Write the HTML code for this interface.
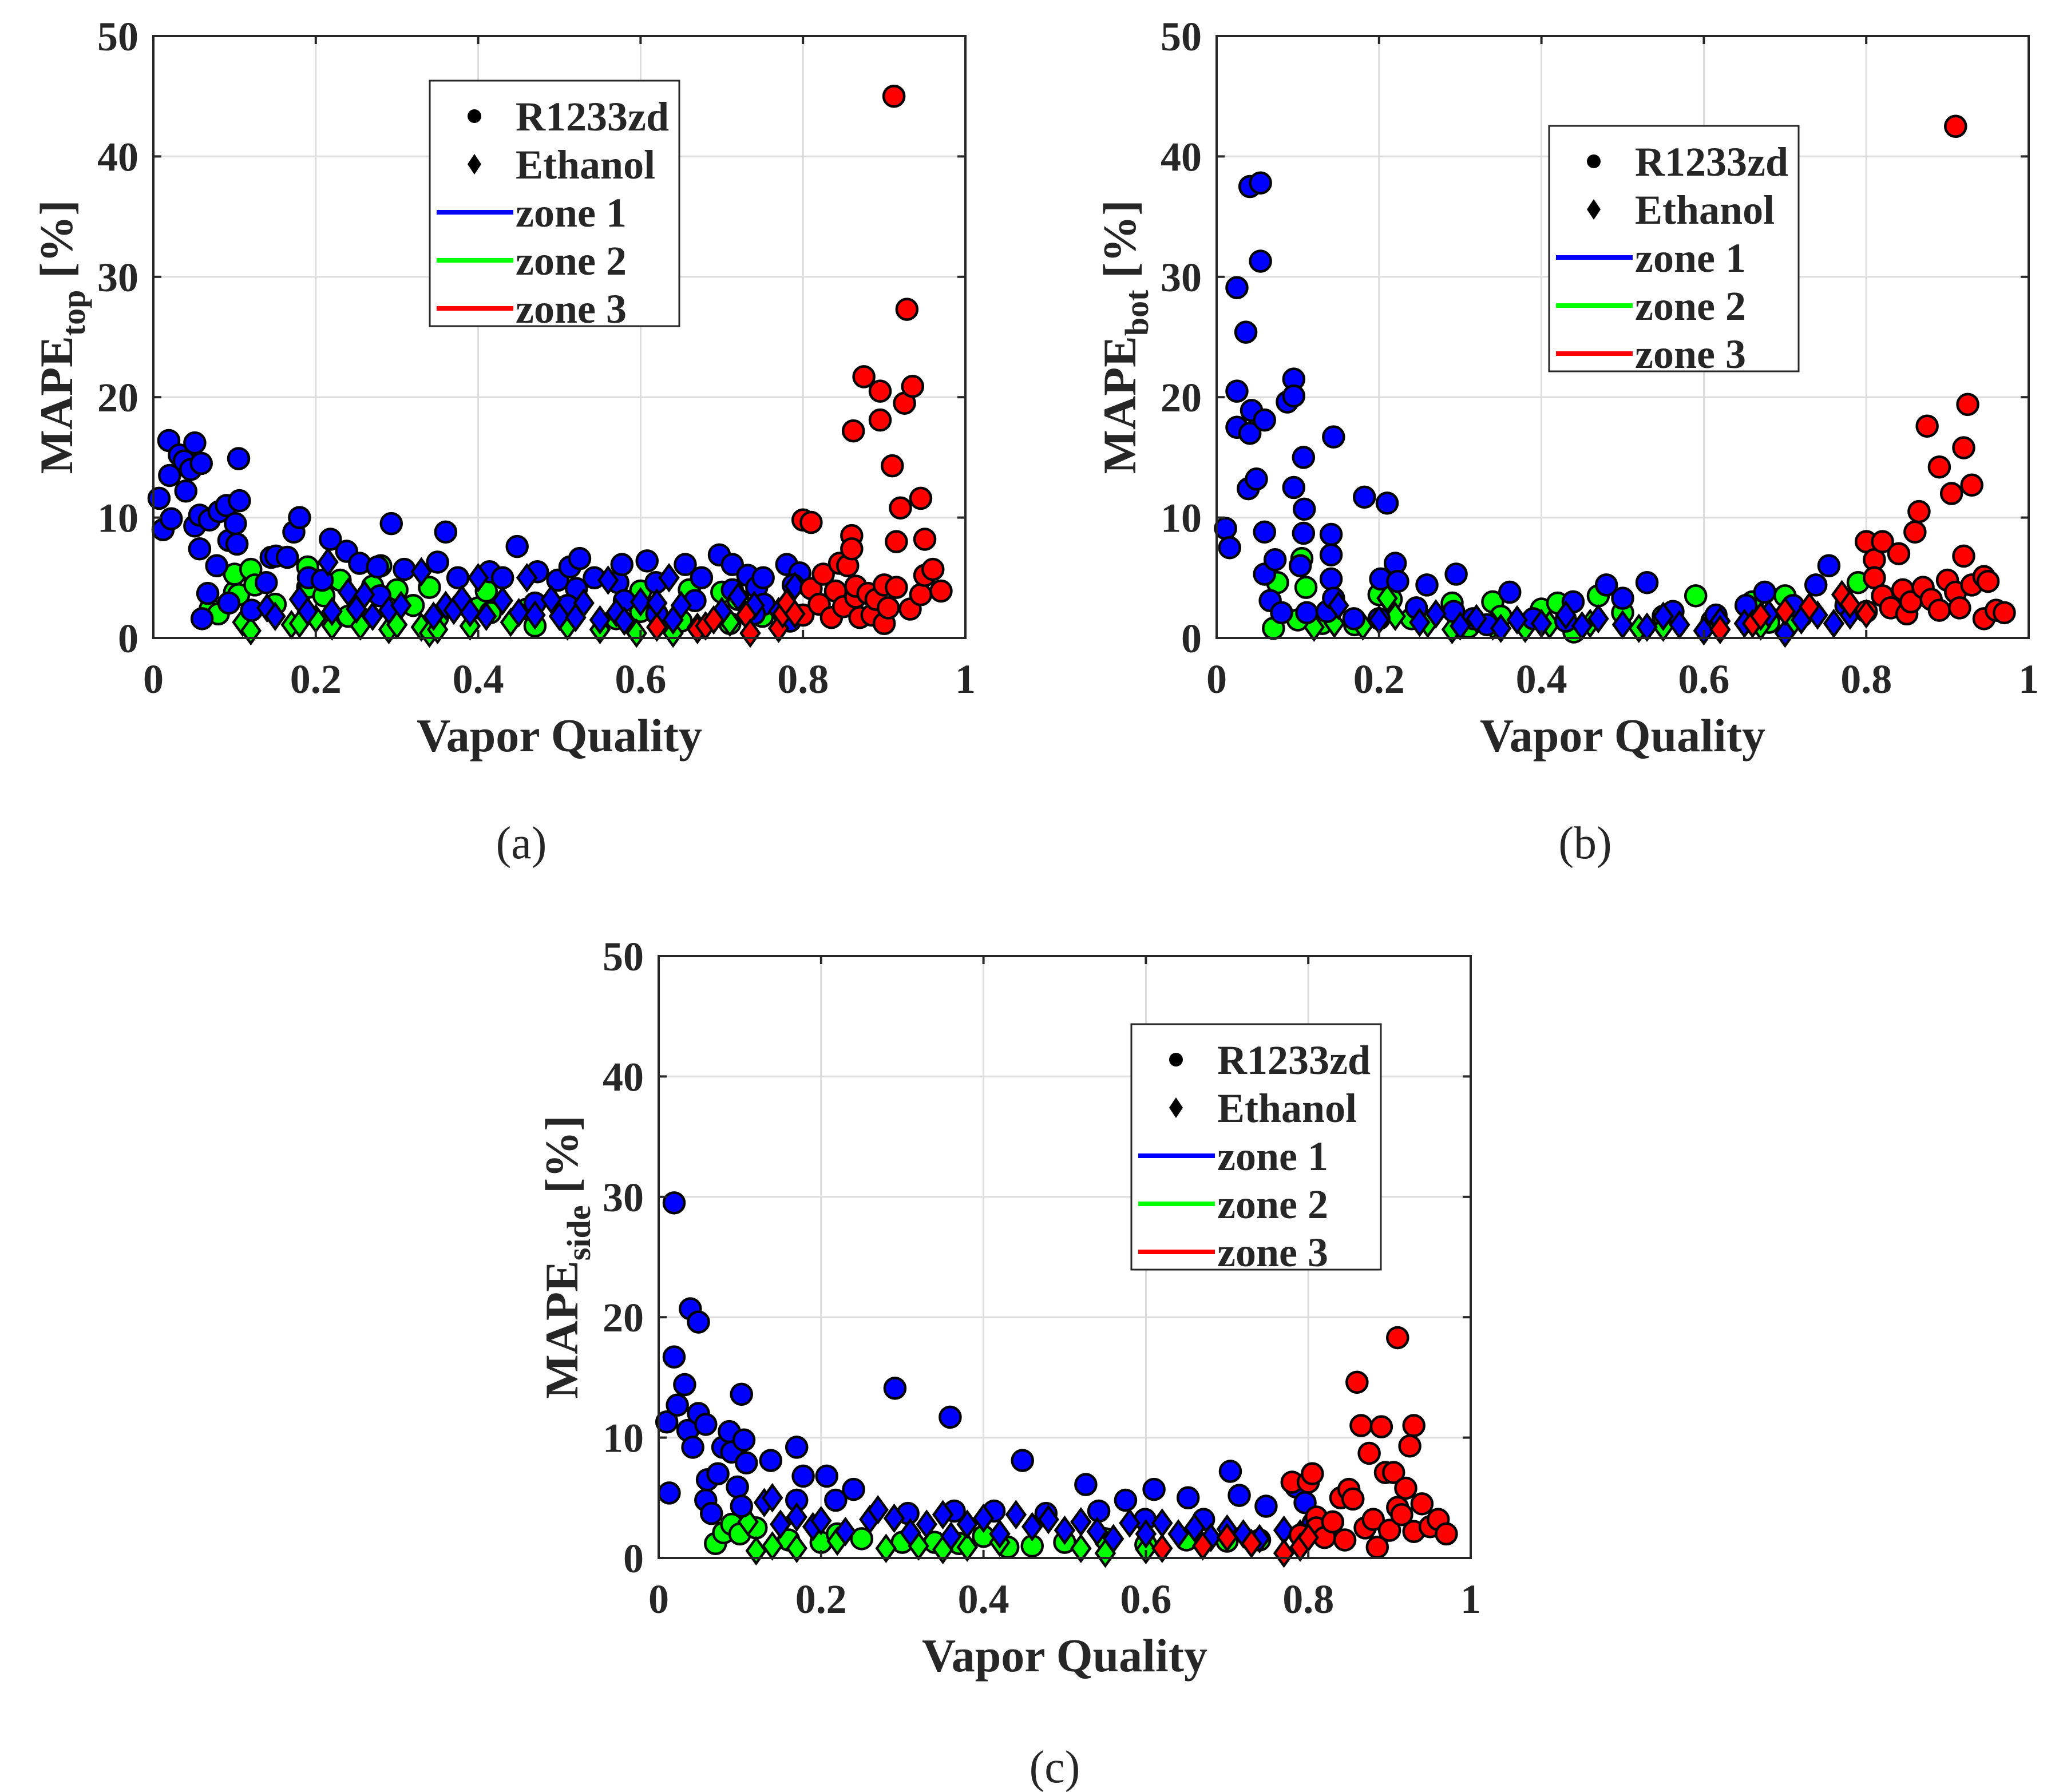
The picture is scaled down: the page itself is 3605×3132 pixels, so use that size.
<!DOCTYPE html>
<html><head><meta charset="utf-8"><style>
html,body{margin:0;padding:0;background:#fff}
svg{display:block}
text{font-family:"Liberation Serif",serif;fill:#262626}
</style></head><body>
<svg id="fig" width="3605" height="3132" viewBox="0 0 3605 3132" xmlns="http://www.w3.org/2000/svg"></svg>
<script>
// ---- Data: plot (a) MAPE_top ----
const aBlueCircX=[.007,.012,.019,.02,.022,.032,.038,.04,.046,.051,.051,.057,.057,.059,.06,.067,.069,.078,.081,.09,.093,.093,.101,.103,.105,.106,.121,.139,.145,.151,.165,.173,.18,.191,.208,.218,.238,.254,.276,.279,.293,.309,.35,.36,.375,.414,.43,.448,.473,.498,.513,.525,.521,.543,.572,.577,.608,.619,.655,.667,.675,.697,.713,.713,.732,.743,.751,.752,.78,.796,.788,.784,.62,.74,.47,.51,.58];
const aBlueCircY=[11.6,9.0,16.4,13.5,9.9,15.2,14.7,12.2,14.0,16.2,9.3,7.4,10.2,14.5,1.6,3.7,9.8,6.0,10.5,11.0,8.1,2.9,9.5,7.8,14.9,11.4,2.3,4.6,6.7,6.8,6.7,8.8,10.0,5.0,4.8,8.2,7.2,6.2,5.9,3.5,9.5,5.7,6.3,8.8,5.0,5.5,5.0,7.6,5.5,4.8,5.9,6.6,4.1,5.0,4.6,6.1,6.4,4.6,6.1,3.1,5.0,6.9,6.1,4.0,5.2,4.2,5.0,2.8,6.1,5.4,4.4,1.4,2.0,2.0,2.9,2.7,3.1];
const aBlueDiaX=[.14,.15,.18,.19,.215,.22,.24,.25,.26,.27,.29,.305,.33,.345,.36,.37,.38,.39,.4,.41,.43,.45,.46,.47,.49,.5,.52,.53,.55,.56,.57,.58,.6,.62,.635,.64,.65,.7,.72,.74,.77,.79];
const aBlueDiaY=[2.5,1.8,3.2,2.2,6.3,2.2,3.8,2.4,3.6,1.8,2.3,2.7,5.5,1.8,2.7,2.3,3.2,2.1,5.0,1.8,3.1,2.1,5.0,1.9,3.2,1.8,1.7,2.9,1.5,4.8,2.1,1.4,3.0,2.9,5.0,1.5,2.7,2.2,3.4,2.7,2.2,4.3];
const aGreenCircX=[.07,.08,.1,.1,.105,.12,.125,.15,.19,.19,.21,.23,.24,.27,.28,.3,.32,.34,.35,.4,.41,.415,.46,.47,.52,.57,.6,.6,.65,.66,.7,.71,.72,.75,.78];
const aGreenCircY=[2.4,2.0,3.8,5.3,3.6,5.7,4.4,2.8,4.2,5.9,3.5,4.8,1.8,4.3,6.0,4.0,2.7,4.2,1.7,2.5,3.9,2.1,2.4,1.0,2.8,1.6,2.2,3.9,1.4,4.0,3.8,1.2,3.2,1.8,2.4];
const aGreenDiaX=[.11,.12,.17,.18,.2,.22,.255,.29,.3,.33,.34,.35,.39,.44,.51,.55,.595,.64,.67,.71];
const aGreenDiaY=[1.3,0.6,1.1,1.2,1.6,1.0,1.0,0.7,1.1,0.9,0.4,0.7,1.0,1.3,1.0,0.7,0.4,0.4,0.9,1.3];
const aRedCircX=[.8,.81,.81,.8,.82,.825,.835,.84,.845,.85,.855,.86,.86,.862,.865,.865,.87,.875,.88,.885,.89,.895,.895,.9,.9,.905,.91,.912,.915,.915,.92,.925,.928,.932,.935,.945,.945,.95,.95,.96,.97];
const aRedCircY=[9.8,9.6,4.1,1.9,2.8,5.3,1.7,3.9,6.2,2.6,6.0,8.5,7.4,17.2,3.4,4.3,1.7,21.7,3.7,1.9,3.2,18.1,20.5,1.2,4.4,2.5,14.3,45,8.0,4.2,10.8,19.5,27.3,2.4,20.9,11.6,3.6,8.2,5.2,5.7,3.9];
const aRedDiaX=[.62,.67,.68,.69,.73,.735,.77,.775,.78,.79];
const aRedDiaY=[0.9,0.7,1.0,1.5,1.9,0.4,0.8,2.0,2.9,2.0];
// ---- Data: plot (b) MAPE_bot ----
const bBlueCircX=[.011,.016,.025,.025,.025,.036,.041,.043,.039,.041,.049,.054,.054,.059,.059,.059,.066,.072,.08,.087,.095,.095,.095,.103,.107,.108,.107,.111,.136,.141,.141,.144,.141,.144,.169,.182,.2,.21,.202,.22,.223,.246,.259,.292,.295,.316,.333,.361,.39,.43,.439,.48,.53,.562,.615,.652,.675,.71,.738,.754,.775,.5];
const bBlueCircY=[9.1,7.5,29.1,20.5,17.5,25.4,37.5,18.9,12.4,17.0,13.2,37.8,31.3,18.1,8.8,5.3,3.1,6.5,2.1,19.6,21.5,20.1,12.5,6.0,15.0,10.7,8.7,2.1,2.2,8.6,6.9,16.7,4.9,3.3,1.6,11.7,1.6,11.2,4.9,6.2,4.7,2.5,4.4,2.2,5.3,1.6,1.1,3.8,1.6,1.4,3.0,4.4,4.6,2.2,1.9,2.7,3.8,2.7,4.4,6.0,2.7,3.3];
const bBlueDiaX=[.15,.2,.25,.27,.3,.32,.35,.37,.4,.43,.45,.47,.5,.53,.55,.57,.6,.62,.65,.68,.7,.72,.74,.76,.78];
const bBlueDiaY=[2.7,1.5,1.3,2.0,1.0,1.6,0.8,1.5,1.2,1.9,1.0,1.6,1.1,0.9,1.8,1.1,0.6,1.4,1.2,2.0,0.4,1.5,1.9,1.2,1.9];
const bGreenCircX=[.07,.075,.105,.11,.1,.13,.17,.2,.215,.24,.29,.31,.34,.35,.4,.42,.44,.47,.5,.55,.59,.61,.66,.68,.7,.72,.79];
const bGreenCircY=[0.8,4.6,6.6,4.2,1.5,1.2,1.1,3.6,3.2,1.6,2.9,0.9,3.0,1.8,2.4,2.9,0.5,3.5,2.1,1.8,3.5,1.4,3.0,1.3,3.5,1.8,4.6];
const bGreenDiaX=[.12,.145,.18,.21,.22,.26,.29,.34,.38,.41,.46,.52,.55,.6,.67,.71];
const bGreenDiaY=[0.9,1.2,1.0,3.3,1.8,1.2,0.7,1.0,0.8,1.1,1.2,0.8,0.9,0.6,1.0,1.3];
const bRedCircX=[.8,.81,.81,.82,.8,.82,.83,.84,.845,.85,.855,.86,.865,.87,.875,.88,.89,.89,.9,.905,.91,.91,.915,.92,.92,.925,.93,.93,.945,.945,.95,.96,.97];
const bRedCircY=[8.0,6.5,5.0,8.0,2.2,3.5,2.5,7.0,4.0,2.0,3.0,8.8,10.5,4.2,17.6,3.2,14.2,2.3,4.8,12.0,42.5,3.8,2.5,15.8,6.8,19.4,12.7,4.4,5.1,1.6,4.7,2.3,2.1];
const bRedDiaX=[.62,.66,.67,.7,.73,.77,.78,.8];
const bRedDiaY=[0.7,1.2,1.8,2.2,2.6,3.6,2.8,2.0];
// ---- Data: plot (c) MAPE_side ----
const cBlueCircX=[.01,.013,.019,.019,.023,.032,.039,.036,.042,.049,.049,.058,.058,.06,.065,.073,.079,.087,.09,.097,.102,.105,.108,.102,.138,.17,.17,.178,.207,.218,.24,.291,.307,.359,.364,.413,.448,.477,.526,.542,.575,.599,.61,.652,.671,.704,.715,.748,.785,.796,.806];
const cBlueCircY=[11.3,5.4,29.5,16.7,12.7,14.4,20.7,10.6,9.2,19.6,12.0,11.1,4.8,6.5,3.7,7.0,9.2,10.5,8.8,5.9,13.6,9.8,7.9,4.3,8.1,9.2,4.8,6.8,6.8,4.8,5.7,14.1,3.7,11.7,3.9,3.9,8.1,3.7,6.1,3.9,4.8,3.2,5.7,5.0,3.2,7.2,5.2,4.3,5.9,4.6,2.9];
const cBlueDiaX=[.13,.14,.15,.17,.19,.2,.23,.26,.27,.29,.31,.33,.35,.36,.38,.4,.42,.44,.46,.48,.5,.52,.54,.56,.58,.6,.62,.64,.66,.68,.7,.72,.74,.77,.79];
const cBlueDiaY=[4.6,5.0,2.8,3.4,2.6,3.1,2.2,3.2,4.0,3.3,2.1,2.8,3.6,1.8,2.8,3.3,2.0,3.6,2.6,3.2,2.3,3.0,2.2,1.6,2.9,2.0,2.9,2.0,2.5,1.7,2.4,2.0,1.6,2.3,2.0];
const cGreenCircX=[.07,.08,.09,.1,.12,.16,.2,.22,.25,.3,.34,.37,.4,.43,.46,.5,.55,.6,.65,.7,.74];
const cGreenCircY=[1.2,2.1,2.8,2.0,2.5,1.5,1.3,2.0,1.6,1.3,1.3,1.2,1.8,0.9,1.0,1.3,1.6,1.1,1.5,1.4,1.5];
const cGreenDiaX=[.11,.12,.14,.17,.22,.28,.32,.35,.38,.42,.52,.55,.6];
const cGreenDiaY=[3.0,0.6,1.0,0.8,1.4,0.8,1.0,0.7,0.9,1.3,0.8,0.4,0.7];
const cRedCircX=[.78,.79,.8,.805,.81,.81,.82,.83,.84,.845,.85,.855,.86,.865,.87,.875,.88,.885,.89,.895,.9,.905,.91,.91,.915,.92,.925,.93,.93,.94,.95,.96,.97];
const cRedCircY=[6.3,1.9,6.3,7.0,3.4,2.5,1.7,3.0,5.0,1.5,5.7,4.9,14.6,11.0,2.5,8.7,3.2,0.9,10.9,7.1,2.3,7.1,4.2,18.3,3.6,5.8,9.3,11.0,2.2,4.5,2.6,3.2,2.0];
const cRedDiaX=[.62,.67,.7,.73,.77,.79,.8];
const cRedDiaY=[0.8,1.0,1.7,1.2,0.4,0.9,1.7];
const xTicks=[0,0.2,0.4,0.6,0.8,1];
const xTickLabels=["0","0.2","0.4","0.6","0.8","1"];
const yTicks=[0,10,20,30,40,50];
const yTickLabels=["0","10","20","30","40","50"];
const legendLabels=["R1233zd","Ethanol","zone 1","zone 2","zone 3"];

const NS="http://www.w3.org/2000/svg";
const svg=document.getElementById('fig');
function mk(tag,attrs,parent){const e=document.createElementNS(NS,tag);for(const k in attrs)e.setAttribute(k,attrs[k]);(parent||svg).appendChild(e);return e;}
const COL={blue:"#0000ff",green:"#00ff00",red:"#ff0000"};

function drawPlot(p){
  const g=mk('g',{});
  
  
  const W=1419,H=1052,L=p.x,T=p.y;
  const sx=v=>L+v*W, sy=v=>T+H-v/50*H;
  mk('rect',{x:L,y:T,width:W,height:H,fill:'#fff'},g);
  xTicks.forEach((t,i)=>{ if(i>0&&i<xTicks.length-1){const l=mk('line',{x1:sx(t),x2:sx(t),y1:T,y2:T+H,stroke:'#dcdcdc','stroke-width':3},g);}});
  yTicks.forEach((t,i)=>{ if(i>0&&i<yTicks.length-1){const l=mk('line',{x1:L,x2:L+W,y1:sy(t),y2:sy(t),stroke:'#dcdcdc','stroke-width':3},g);}});
  const series=[['green','c',p.gcx,p.gcy],['green','d',p.gdx,p.gdy],['blue','c',p.bcx,p.bcy],['blue','d',p.bdx,p.bdy],['red','c',p.rcx,p.rcy],['red','d',p.rdx,p.rdy]];
  series.forEach(s=>{
    const sg=mk('g',{},g);
    
    
    s[2].forEach((xv,i)=>{
      const cx=sx(xv), cy=sy(s[3][i]);
      let m;
      if(s[1]=='c') m=mk('circle',{cx:cx,cy:cy,r:18,fill:COL[s[0]],stroke:'#000','stroke-width':4.5},sg);
      else m=mk('polygon',{points:`${cx},${cy-22} ${cx+16},${cy} ${cx},${cy+22} ${cx-16},${cy}`,fill:COL[s[0]],stroke:'#000','stroke-width':4.5},sg);
      
      
    });
  });
  const box=mk('rect',{x:L,y:T,width:W,height:H,fill:'none',stroke:'#262626','stroke-width':4},g);
  
  
  xTicks.forEach((t,i)=>{
    mk('line',{x1:sx(t),x2:sx(t),y1:T+H,y2:T+H-14,stroke:'#262626','stroke-width':4},g);
    mk('line',{x1:sx(t),x2:sx(t),y1:T,y2:T+14,stroke:'#262626','stroke-width':4},g);
    const tx=mk('text',{x:sx(t),y:T+H+96,'text-anchor':'middle','font-size':72,'font-weight':'bold'},g);
    tx.textContent=xTickLabels[i];
    
    
  });
  yTicks.forEach((t,i)=>{
    mk('line',{x1:L,x2:L+14,y1:sy(t),y2:sy(t),stroke:'#262626','stroke-width':4},g);
    mk('line',{x1:L+W,x2:L+W-14,y1:sy(t),y2:sy(t),stroke:'#262626','stroke-width':4},g);
    const tx=mk('text',{x:L-26,y:sy(t)+25,'text-anchor':'end','font-size':72,'font-weight':'bold'},g);
    tx.textContent=yTickLabels[i];
    
    
  });
  const xt=mk('text',{x:L+W/2,y:T+H+198,'text-anchor':'middle','font-size':82,'font-weight':'bold'},g);
  xt.textContent='Vapor Quality';
  
  
  const yt=mk('text',{x:0,y:0,'text-anchor':'middle','font-size':82,'font-weight':'bold',transform:`translate(${L-142},${T+H/2}) rotate(-90)`},g);
  yt.innerHTML=`MAPE<tspan font-size="58" dy="22">${p.sub}</tspan><tspan dy="-22"> [%]</tspan>`;
  
  
  const lg=mk('g',{},g);
  
  
  mk('rect',{x:p.lx,y:p.ly,width:436,height:429,fill:'#fff',stroke:'#262626','stroke-width':3},lg);
  legendLabels.forEach((lab,i)=>{
    const ry=p.ly+62+i*84;
    const e=mk('g',{},lg);
    
    
    if(i==0) mk('circle',{cx:p.lx+78,cy:ry,r:12,fill:'#000'},e);
    else if(i==1){const cx=p.lx+78;mk('polygon',{points:`${cx},${ry-18} ${cx+12},${ry} ${cx},${ry+18} ${cx-12},${ry}`,fill:'#000'},e);}
    else mk('line',{x1:p.lx+12,x2:p.lx+146,y1:ry,y2:ry,stroke:[COL.blue,COL.green,COL.red][i-2],'stroke-width':8},e);
    const t=mk('text',{x:p.lx+150,y:ry+25,'font-size':72,'font-weight':'bold'},e);
    t.textContent=lab;
  });
  const cap=mk('text',{x:p.capx,y:p.capy,'text-anchor':'middle','font-size':80},g);
  cap.textContent=p.cap;
  
  
}
drawPlot({id:'a',x:268,y:63,sub:'top',lx:751,ly:141,capx:911,capy:1500,cap:'(a)',
 bcx:aBlueCircX,bcy:aBlueCircY,bdx:aBlueDiaX,bdy:aBlueDiaY,gcx:aGreenCircX,gcy:aGreenCircY,gdx:aGreenDiaX,gdy:aGreenDiaY,rcx:aRedCircX,rcy:aRedCircY,rdx:aRedDiaX,rdy:aRedDiaY});
drawPlot({id:'b',x:2126,y:63,sub:'bot',lx:2707,ly:220,capx:2770,capy:1500,cap:'(b)',
 bcx:bBlueCircX,bcy:bBlueCircY,bdx:bBlueDiaX,bdy:bBlueDiaY,gcx:bGreenCircX,gcy:bGreenCircY,gdx:bGreenDiaX,gdy:bGreenDiaY,rcx:bRedCircX,rcy:bRedCircY,rdx:bRedDiaX,rdy:bRedDiaY});
drawPlot({id:'c',x:1151,y:1671,sub:'side',lx:1977,ly:1790,capx:1843,capy:3115,cap:'(c)',
 bcx:cBlueCircX,bcy:cBlueCircY,bdx:cBlueDiaX,bdy:cBlueDiaY,gcx:cGreenCircX,gcy:cGreenCircY,gdx:cGreenDiaX,gdy:cGreenDiaY,rcx:cRedCircX,rcy:cRedCircY,rdx:cRedDiaX,rdy:cRedDiaY});
</script>
</body></html>
